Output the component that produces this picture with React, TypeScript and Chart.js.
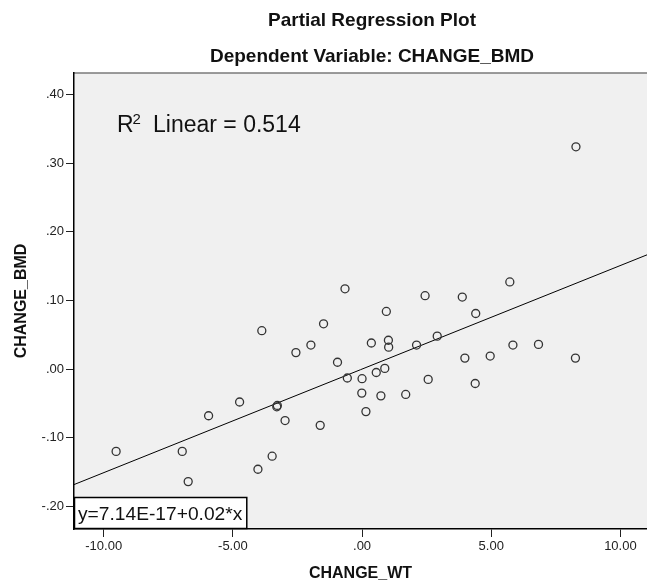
import React, { useEffect, useRef } from "react";
import { Chart, registerables } from "chart.js";

Chart.register(...registerables);

const xValues = [
  8.28, -0.66, -1.49, -3.88, 0.94, 2.44, 3.88, 4.4, 5.72, -1.98, -2.56, -0.95, -0.57, 0.0, -0.01,
  -4.74, -3.28, -3.3, -5.94, -2.98, -1.62, -9.52, -6.96, -3.48, -4.03, -6.73, 0.36, 1.02, 1.03,
  2.11, 2.91, 0.55, 0.88, 0.73, 1.69, 0.15, 2.56, 3.98, 4.96, 5.84, 6.83, 8.26, 4.38,
];
const yValues = [
  0.324, 0.117, 0.066, 0.056, 0.084, 0.107, 0.105, 0.081, 0.127, 0.035, 0.024, 0.01, -0.013, -0.014,
  -0.035, -0.048, -0.053, -0.055, -0.068, -0.075, -0.082, -0.12, -0.12, -0.127, -0.146, -0.164,
  0.038, 0.042, 0.032, 0.035, 0.048, -0.005, 0.001, -0.039, -0.037, -0.062, -0.015, 0.016, 0.019,
  0.035, 0.036, 0.016, -0.021,
];
const xTicks = [-10, -5, 0, 5, 10];
const yTicks = [-0.2, -0.1, 0, 0.1, 0.2, 0.3, 0.4];
const xRange = [-11.15, 11.03];
const yRange = [-0.2331, 0.4316];
const intercept = 7.14e-17;
const slope = 0.0151;

const titleText = "Partial Regression Plot";
const subtitleText = "Dependent Variable: CHANGE_BMD";
const xTitle = "CHANGE_WT";
const yTitle = "CHANGE_BMD";
const rLabel = "R";
const rSup = "2";
const rRest = "Linear = 0.514";
const equationText = "y=7.14E-17+0.02*x";

const FAMILY = "'Liberation Sans', Arial, sans-serif";

function fmt(v: number) {
  return Number(v).toFixed(2).replace(/^(-?)0\./, "$1.");
}

export default function App() {
  const ref = useRef<HTMLCanvasElement>(null);

  useEffect(() => {
    document.body.style.margin = "0";
    const canvas = ref.current;
    if (!canvas) return;

    const decor = {
      id: "decor",
      beforeDraw(chart: any) {
        const { ctx, chartArea: a } = chart;
        ctx.save();
        ctx.fillStyle = "#ffffff";
        ctx.fillRect(0, 0, chart.width, chart.height);
        ctx.fillStyle = "#f0f0f0";
        ctx.fillRect(a.left, a.top, a.right - a.left, a.bottom - a.top);
        ctx.strokeStyle = "#7a7a7a";
        ctx.lineWidth = 1.5;
        ctx.beginPath();
        ctx.moveTo(a.left, a.top);
        ctx.lineTo(a.right, a.top);
        ctx.stroke();
        ctx.restore();
      },
      afterDraw(chart: any) {
        const { ctx, chartArea: a } = chart;
        ctx.save();
        ctx.fillStyle = "#111";
        ctx.textAlign = "center";
        ctx.textBaseline = "middle";
        ctx.font = `bold 19px ${FAMILY}`;
        ctx.fillText(titleText, 372, 21);
        ctx.fillText(subtitleText, 372, 57);

        // R^2 annotation
        ctx.textAlign = "left";
        ctx.textBaseline = "alphabetic";
        ctx.font = `23px ${FAMILY}`;
        const rx = a.left + 43;
        const ry = a.top + 59;
        ctx.fillText(rLabel, rx, ry);
        const rw = ctx.measureText(rLabel).width;
        ctx.font = `15px ${FAMILY}`;
        ctx.fillText(rSup, rx + rw - 1, ry - 8);
        ctx.font = `23px ${FAMILY}`;
        ctx.fillText(rRest, rx + 36, ry);

        // equation box
        const bx = a.left;
        const bh = 32;
        const by = a.bottom - bh;
        ctx.font = `19.2px ${FAMILY}`;
        const tw = ctx.measureText(equationText).width;
        const bw = tw + 8;
        ctx.fillStyle = "#ffffff";
        ctx.fillRect(bx, by, bw, bh);
        ctx.strokeStyle = "#000";
        ctx.lineWidth = 1.5;
        ctx.strokeRect(bx + 0.5, by + 0.5, bw, bh - 1);
        ctx.fillStyle = "#111";
        ctx.fillText(equationText, bx + 4, by + 23);
        ctx.restore();
      },
    };

    const chart = new Chart(canvas, {
      type: "scatter",
      data: {
        datasets: [
          {
            type: "line",
            data: xRange.map((x) => ({ x, y: intercept + slope * x })),
            borderColor: "#000",
            borderWidth: 1,
            pointRadius: 0,
            fill: false,
            order: 2,
          },
          {
            type: "scatter",
            data: xValues.map((x, i) => ({ x, y: yValues[i] })),
            pointRadius: 4,
            pointBorderWidth: 1.3,
            borderColor: "#333",
            backgroundColor: "rgba(0,0,0,0)",
            pointBackgroundColor: "rgba(0,0,0,0)",
            pointBorderColor: "#333",
            order: 1,
          },
        ] as any,
      },
      options: {
        responsive: false,
        animation: false,
        devicePixelRatio: 1,
        layout: { autoPadding: false, padding: { top: 73, left: 0, right: 0, bottom: 0 } },
        plugins: {
          legend: { display: false },
          tooltip: { enabled: false },
          title: { display: false },
        },
        scales: {
          x: {
            type: "linear",
            position: "bottom",
            min: xRange[0],
            max: xRange[1],
            afterBuildTicks: (s: any) => {
              s.ticks = xTicks.map((v) => ({ value: v }));
            },
            afterFit: (s: any) => {
              s.height = 55;
              s.paddingLeft = 0;
              s.paddingRight = 0;
            },
            ticks: {
              callback: (v: any) => fmt(v),
              font: { size: 13, family: FAMILY },
              color: "#222",
              padding: 2,
              maxRotation: 0,
              autoSkip: false,
            },
            grid: {
              drawOnChartArea: false,
              drawTicks: true,
              tickLength: 8,
              tickColor: "#222",
              tickWidth: 1,
            },
            border: { display: true, color: "#000", width: 1.5 },
            title: {
              display: true,
              text: xTitle,
              font: { size: 16, weight: "bold", family: FAMILY },
              color: "#111",
              padding: { top: 0, bottom: 1 },
            },
          },
          y: {
            type: "linear",
            position: "left",
            min: yRange[0],
            max: yRange[1],
            afterBuildTicks: (s: any) => {
              s.ticks = yTicks.map((v) => ({ value: v }));
            },
            afterFit: (s: any) => {
              s.width = 74;
              s.paddingTop = 0;
              s.paddingBottom = 0;
            },
            ticks: {
              callback: (v: any) => fmt(v),
              font: { size: 13, family: FAMILY },
              color: "#222",
              padding: 2,
              autoSkip: false,
            },
            grid: {
              drawOnChartArea: false,
              drawTicks: true,
              tickLength: 8,
              tickColor: "#222",
              tickWidth: 1,
            },
            border: { display: true, color: "#000", width: 1.5 },
            title: {
              display: true,
              text: yTitle,
              font: { size: 16, weight: "bold", family: FAMILY },
              color: "#111",
              padding: { top: 12, bottom: 0 },
            },
          },
        },
      } as any,
      plugins: [decor],
    });

    return () => chart.destroy();
  }, []);

  return (
    <div style={{ width: 647, height: 584 }}>
      <canvas ref={ref} width={647} height={584} style={{ display: "block" }} />
    </div>
  );
}
